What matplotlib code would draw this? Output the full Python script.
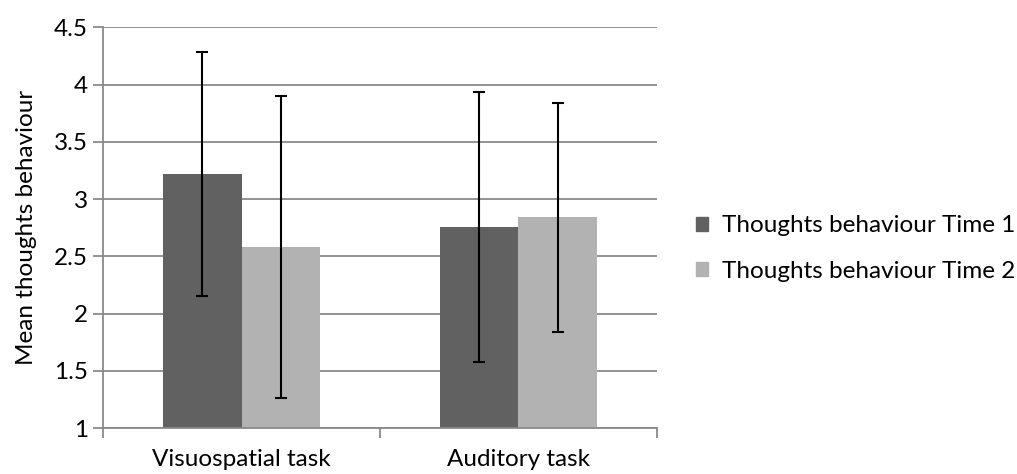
import matplotlib.pyplot as plt
import numpy as np
from matplotlib.patches import Patch

categories = ['Visuospatial task', 'Auditory task']
series_names = ['Thoughts behaviour Time 1', 'Thoughts behaviour Time 2']
time1_means = [3.22, 2.76]
time2_means = [2.58, 2.84]
time1_err_hi = [4.29, 3.94]
time1_err_lo = [2.15, 1.58]
time2_err_hi = [3.90, 3.84]
time2_err_lo = [1.26, 1.84]
y_ticks = [1, 1.5, 2, 2.5, 3, 3.5, 4, 4.5]
y_tick_labels = ['1', '1.5', '2', '2.5', '3', '3.5', '4', '4.5']

COLOUR_DARK = '#616161'
COLOUR_LIGHT = '#b2b2b2'
COLOUR_GRID = '#8a8a8a'
FONT_SIZE = 17.5

plt.rcParams['font.family'] = ['Lato', 'DejaVu Sans']

fig = plt.figure(figsize=(10.17, 4.74), dpi=100)
ax = fig.add_axes([0.1013, 0.097, 0.5447, 0.845])

x = np.arange(len(categories))
width = 0.284

means = [time1_means, time2_means]
err_hi = [time1_err_hi, time2_err_hi]
err_lo = [time1_err_lo, time2_err_lo]
colours = [COLOUR_DARK, COLOUR_LIGHT]
offsets = [-width / 2, width / 2]

for m, hi, lo, c, off in zip(means, err_hi, err_lo, colours, offsets):
    m = np.array(m)
    yerr = [m - np.array(lo), np.array(hi) - m]
    ax.bar(x + off, m, width, color=c, zorder=2)
    ax.errorbar(x + off, m, yerr=yerr, fmt='none', ecolor='black',
                elinewidth=1.5, capsize=4.5, capthick=1.5, zorder=3)

ax.set_xlim(-0.5, 1.5)
ax.set_ylim(1, 4.5)
ax.set_yticks(y_ticks)
ax.set_yticklabels(y_tick_labels, fontsize=FONT_SIZE)
ax.yaxis.grid(True, color=COLOUR_GRID, lw=1.3, zorder=0)
ax.set_axisbelow(True)

# categories labelled at centres, tick marks at the boundaries
ax.set_xticks([-0.5, 0.5, 1.5])
ax.set_xticklabels([])
ax.set_xticks(x, minor=True)
ax.set_xticklabels(categories, minor=True, fontsize=FONT_SIZE)
ax.tick_params(axis='x', which='minor', length=0, pad=15)
ax.tick_params(axis='x', which='major', length=7, color=COLOUR_GRID, width=1.3)
ax.tick_params(axis='y', length=7, color=COLOUR_GRID, width=1.3, pad=4)

for side in ['top', 'right']:
    ax.spines[side].set_visible(False)
for side in ['left', 'bottom']:
    ax.spines[side].set_color(COLOUR_GRID)
    ax.spines[side].set_linewidth(1.3)

ax.set_ylabel('Mean thoughts behaviour', fontsize=FONT_SIZE, labelpad=12)

handles = [Patch(color=c, label=n) for c, n in zip(colours, series_names)]
fig.legend(handles=handles, loc='center left', bbox_to_anchor=(0.684, 0.476),
           frameon=False, fontsize=FONT_SIZE, handlelength=0.5, handleheight=0.5,
           handletextpad=0.6, labelspacing=1.0, borderpad=0, borderaxespad=0)

plt.savefig('out.png', dpi=100)
